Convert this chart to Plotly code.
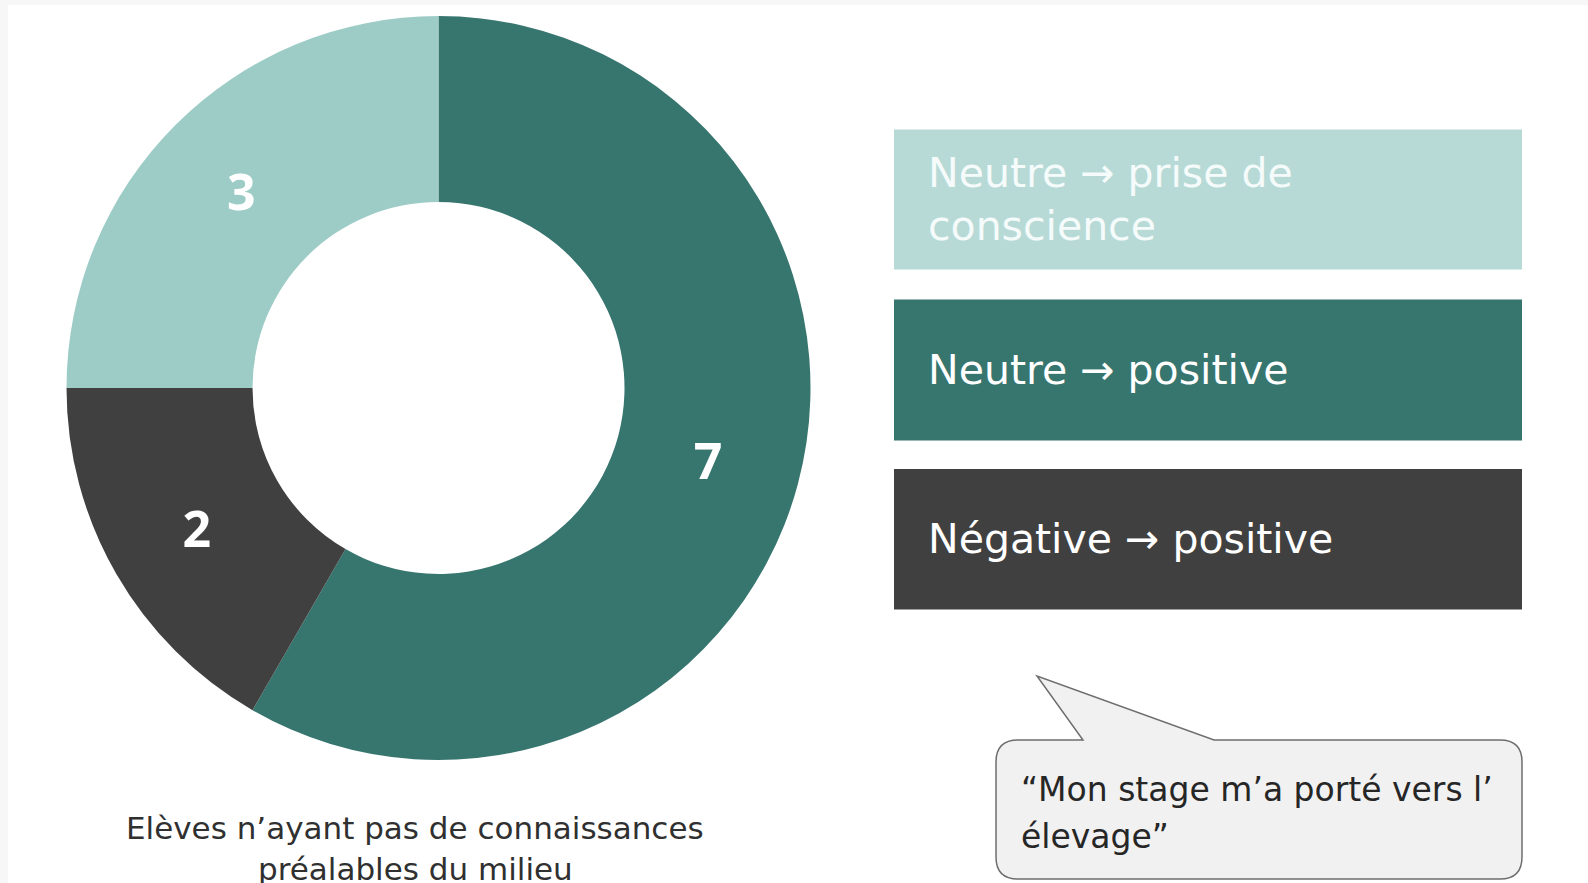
import plotly.graph_objects as go

# ---- data ----
categories = ["Neutre → positive", "Négative → positive", "Neutre → prise de conscience"]
values = [7, 2, 3]
slice_colors = ["#37756f", "#404040", "#9dccc7"]
legend_labels = ["Neutre → prise de<br>conscience", "Neutre → positive", "Négative → positive"]
legend_colors = ["#b7dad7", "#37756f", "#404040"]
legend_text_colors = ["#f5fbfa", "#ffffff", "#ffffff"]
caption_lines = ["Elèves n’ayant pas de connaissances", "préalables du milieu"]
quote_lines = ["“Mon stage m’a porté vers l’", "élevage”"]

W, H = 1588, 883


def px(x):
    return x / W


def py(y):
    return 1 - y / H


FONT = "DejaVu Sans"

fig = go.Figure()

# donut
cx, cy, R = 438.5, 388, 372
fig.add_trace(go.Pie(
    values=values,
    labels=categories,
    marker=dict(colors=slice_colors, line=dict(width=0)),
    hole=0.5,
    sort=False,
    direction="clockwise",
    rotation=0,
    textinfo="value",
    textposition="inside",
    insidetextorientation="horizontal",
    textfont=dict(family="Noto Sans", size=50, color="white", weight="bold"),
    domain=dict(x=[px(cx - R), px(cx + R)], y=[py(cy + R), py(cy - R)]),
    showlegend=False,
    hoverinfo="label+value",
))

shapes = []
annotations = []

# background frame (light grey strip top/left)
shapes.append(dict(type="rect", xref="paper", yref="paper",
                   x0=px(8), x1=1, y0=0, y1=py(5),
                   fillcolor="white", line=dict(width=0), layer="below"))

# legend boxes
box_x0, box_x1 = 894, 1522
box_rows = [(129.5, 269.5), (299.5, 440.5), (469, 609.5)]
for (y0, y1), lab, col, tcol in zip(box_rows, legend_labels, legend_colors, legend_text_colors):
    shapes.append(dict(type="rect", xref="paper", yref="paper",
                       x0=px(box_x0), x1=px(box_x1), y0=py(y1), y1=py(y0),
                       fillcolor=col, line=dict(width=0)))
    annotations.append(dict(xref="paper", yref="paper", x=px(926), y=py((y0 + y1) / 2),
                            xanchor="left", yanchor="middle", align="left",
                            text=lab, showarrow=False,
                            font=dict(family=FONT, size=41, color=tcol)))

# speech bubble
L, Rr, T, B, r = 996, 1522, 740, 879, 22
tl, apx, apy, tr = 1083, 1037, 676, 1214


def P(x, y):
    return f"{px(x)},{py(y)}"


path = (f"M {P(L + r, T)} L {P(tl, T)} L {P(apx, apy)} L {P(tr, T)} L {P(Rr - r, T)} "
        f"Q {P(Rr, T)} {P(Rr, T + r)} L {P(Rr, B - r)} Q {P(Rr, B)} {P(Rr - r, B)} "
        f"L {P(L + r, B)} Q {P(L, B)} {P(L, B - r)} L {P(L, T + r)} Q {P(L, T)} {P(L + r, T)} Z")
shapes.append(dict(type="path", xref="paper", yref="paper", path=path,
                   fillcolor="#f1f1f1", line=dict(color="#6e6e6e", width=1.5)))

for i, line in enumerate(quote_lines):
    annotations.append(dict(xref="paper", yref="paper", x=px(1019), y=py(789 + i * 47),
                            xanchor="left", yanchor="middle", align="left",
                            text=line, showarrow=False,
                            font=dict(family=FONT, size=33, color="#262626")))

# caption
for i, line in enumerate(caption_lines):
    annotations.append(dict(xref="paper", yref="paper", x=px(415), y=py(828 + i * 41),
                            xanchor="center", yanchor="middle",
                            text=line, showarrow=False,
                            font=dict(family=FONT, size=31, color="#303030")))

fig.update_layout(
    width=W, height=H,
    margin=dict(l=0, r=0, t=0, b=0),
    paper_bgcolor="#f7f7f7",
    plot_bgcolor="white",
    shapes=shapes,
    annotations=annotations,
)

fig.write_html("out.html", config={"displayModeBar": False},
               post_script="document.body.style.margin='0';document.body.style.overflow='hidden';")
